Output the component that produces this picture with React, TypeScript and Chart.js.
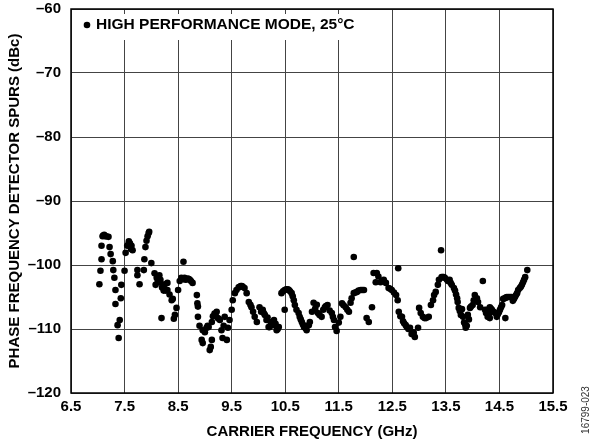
import React, { useEffect, useRef } from 'react';
import { Chart, registerables } from 'chart.js';

Chart.register(...registerables);

const seriesLabel = 'HIGH PERFORMANCE MODE, 25°C';
const xTitle = 'CARRIER FREQUENCY (GHz)';
const yTitle = 'PHASE FREQUENCY DETECTOR SPURS (dBc)';
const figureId = '16799-023';

const xTicks = [6.5, 7.5, 8.5, 9.5, 10.5, 11.5, 12.5, 13.5, 14.5, 15.5];
const yTicks = [-120, -110, -100, -90, -80, -70, -60];

const freqGHz = [
  7.03, 7.05, 7.07, 7.07, 7.09, 7.12, 7.16, 7.2, 7.22, 7.24, 7.28, 7.29, 7.33, 7.33, 7.37, 7.39, 7.41, 7.43, 7.44, 7.5,
  7.52, 7.55, 7.58, 7.6, 7.62, 7.65, 7.74, 7.74, 7.78, 7.86, 7.87, 7.89, 7.91, 7.93, 7.96, 8.0, 8.06, 8.08, 8.12, 8.15,
  8.15, 8.19, 8.2, 8.23, 8.25, 8.27, 8.3, 8.3, 8.34, 8.38, 8.4, 8.42, 8.44, 8.47, 8.5, 8.53, 8.56, 8.6, 8.6, 8.64,
  8.68, 8.72, 8.77, 8.85, 8.86, 8.87, 8.87, 8.9, 8.94, 8.96, 8.96, 9.03, 9.05, 9.09, 9.13, 9.13, 9.15, 9.18, 9.22, 9.24,
  9.28, 9.31, 9.33, 9.37, 9.41, 9.43, 9.46, 9.5, 9.52, 9.56, 9.59, 9.63, 9.67, 9.71, 9.74, 9.78, 9.82, 9.87, 9.9, 9.93,
  9.97, 10.02, 10.08, 10.1, 10.12, 10.15, 10.19, 10.21, 10.25, 10.29, 10.3, 10.34, 10.38, 10.43, 10.49, 10.49, 10.55, 10.57, 10.62, 10.66,
  10.68, 10.71, 10.75, 10.77, 10.81, 10.85, 10.9, 10.94, 10.96, 11.0, 11.03, 11.09, 11.11, 11.14, 11.18, 11.24, 11.29, 11.37, 11.41, 11.43,
  11.46, 11.5, 11.56, 11.63, 11.69, 11.72, 11.74, 11.78, 11.78, 11.84, 11.91, 11.97, 12.02, 12.06, 12.12, 12.15, 12.19, 12.21, 12.28, 12.34,
  12.38, 12.43, 12.49, 12.57, 12.6, 12.61, 12.62, 12.68, 12.72, 12.77, 12.83, 12.88, 12.92, 12.98, 13.0, 13.07, 13.13, 13.18, 13.22, 13.26,
  13.28, 13.31, 13.35, 13.37, 13.41, 13.42, 13.48, 13.54, 13.57, 13.61, 13.65, 13.67, 13.71, 13.72, 13.74, 13.78, 13.8, 13.82, 13.84, 13.87,
  13.89, 13.91, 13.95, 14.0, 14.04, 14.08, 14.14, 14.19, 14.23, 14.27, 14.28, 14.32, 14.32, 14.36, 14.42, 14.45, 14.47, 14.51, 14.55, 14.57,
  14.6, 14.61, 14.64, 14.7, 14.73, 14.75, 14.79, 14.83, 14.85, 14.88, 14.92, 14.94, 14.98, 15.02,
  7.1, 7.14, 7.31, 7.57, 7.63, 7.95, 8.1, 8.17, 8.22, 8.62, 8.66, 8.7, 8.74, 9.0, 9.07, 9.11, 9.2, 9.26, 9.35, 9.65,
  9.69, 9.85, 10.05, 10.17, 10.23, 10.32, 10.36, 10.46, 10.52, 10.59, 10.64, 10.79, 10.83, 10.88, 11.06, 11.21, 11.26, 11.33, 11.39, 11.53,
  11.59, 11.66, 11.81, 11.87, 11.94, 12.24, 12.31, 12.46, 12.53, 12.65, 12.7, 12.75, 12.8, 12.86, 12.9, 13.03, 13.1, 13.44, 13.46, 13.52,
  13.59, 13.69, 13.76, 13.86, 13.93, 13.97, 14.02, 14.1, 14.25, 14.3, 14.34, 14.39, 14.49, 14.53, 14.62, 14.67, 14.77, 14.81, 14.9, 14.96,
];

const spurDbc = [
  -103.0, -100.9, -99.1, -97.0, -95.5, -95.3, -95.5, -95.6, -97.2, -98.3, -99.4, -100.8, -103.9, -106.1, -109.4, -111.4, -108.6, -105.2, -103.1, -100.9,
  -98.1, -97.0, -96.3, -96.6, -97.5, -97.7, -100.8, -101.6, -103.0, -100.8, -99.1, -97.2, -96.2, -95.5, -94.8, -99.7, -101.3, -103.1, -102.5, -101.6,
  -102.7, -108.3, -103.5, -104.0, -103.0, -104.0, -102.8, -103.9, -104.6, -105.5, -105.3, -108.4, -107.8, -106.7, -103.9, -102.5, -102.0, -99.5, -102.2, -102.3,
  -102.1, -102.3, -102.8, -104.7, -106.0, -106.5, -108.1, -109.5, -111.7, -110.2, -112.2, -109.8, -109.5, -113.3, -108.9, -111.7, -108.0, -107.6, -107.3, -108.3,
  -108.6, -110.2, -111.4, -108.1, -111.7, -109.8, -108.6, -107.0, -105.5, -104.4, -103.9, -103.5, -103.3, -103.4, -103.6, -104.4, -105.8, -106.6, -107.3, -108.1,
  -108.9, -106.6, -107.0, -107.5, -107.8, -108.6, -109.7, -109.7, -108.9, -108.6, -109.4, -110.2, -109.7, -104.4, -103.9, -107.0, -103.8, -103.9, -104.4, -105.5,
  -106.25, -107.0, -107.5, -108.1, -108.9, -109.7, -110.2, -109.4, -108.9, -107.3, -105.9, -106.2, -107.5, -107.8, -108.1, -106.6, -106.25, -107.5, -108.6, -109.7,
  -110.3, -109.0, -106.0, -106.6, -107.3, -105.9, -105.2, -104.4, -98.75, -104.2, -103.9, -103.9, -108.3, -108.9, -106.6, -101.25, -102.7, -101.25, -102.7, -102.3,
  -102.8, -103.6, -103.9, -104.7, -105.5, -100.5, -107.3, -108.1, -109.1, -109.7, -109.8, -110.5, -111.25, -109.8, -106.7, -108.1, -108.3, -108.1, -106.25, -105.5,
  -104.7, -104.2, -103.1, -102.3, -97.7, -101.9, -102.0, -102.5, -102.3, -103.1, -103.6, -104.0, -105.2, -105.8, -106.7, -107.8, -106.9, -108.1, -109.0, -109.8,
  -109.5, -107.8, -106.7, -106.25, -104.7, -105.2, -106.6, -102.5, -107.0, -107.0, -108.1, -108.3, -106.6, -107.0, -107.5, -108.1, -107.7, -107.0, -106.25, -105.3,
  -105.2, -108.3, -105.0, -105.0, -105.0, -105.6, -105.0, -104.4, -103.9, -103.6, -103.1, -102.7, -101.9, -100.8,
  -95.4, -95.5, -102.0, -96.8, -97.0, -95.0, -102.0, -102.3, -103.3, -102.0, -102.2, -102.2, -102.5, -110.5, -109.7, -112.8, -107.8, -108.4, -109.5, -103.4,
  -103.3, -106.2, -107.3, -108.2, -109.0, -109.2, -110.0, -104.1, -103.8, -104.1, -104.9, -108.5, -109.3, -109.9, -106.8, -107.0, -106.4, -107.1, -108.1, -108.1,
  -106.3, -107.0, -104.3, -104.0, -103.9, -101.8, -102.5, -103.7, -104.3, -108.0, -108.8, -109.4, -110.0, -110.8, -110.6, -107.5, -108.3, -101.9, -101.9, -102.3,
  -102.8, -104.6, -107.2, -109.3, -108.5, -106.5, -105.5, -105.8, -107.5, -107.7, -106.8, -107.3, -107.4, -106.6, -105.1, -105.0, -105.3, -104.7, -103.4, -102.3,
];

const FONT = '"Liberation Sans", Arial, Helvetica, sans-serif';

function fmtY(v: number): string {
  return v < 0 ? '\u2013' + Math.abs(v) : String(v);
}

export default function App() {
  const ref = useRef<HTMLCanvasElement>(null);

  useEffect(() => {
    const canvas = ref.current;
    if (!canvas) return;

    const decorPlugin = {
      id: 'decor',
      afterDraw(chart: any) {
        const { ctx, chartArea } = chart;
        const { left, top, right, bottom } = chartArea;
        ctx.save();
        // legend box inside plot area
        ctx.fillStyle = '#ffffff';
        ctx.fillRect(left + 4, top + 5, 290, 26);
        ctx.fillStyle = '#000000';
        ctx.beginPath();
        ctx.arc(left + 16, top + 16, 3.3, 0, Math.PI * 2);
        ctx.fill();
        ctx.font = 'bold 15.5px ' + FONT;
        ctx.textBaseline = 'middle';
        ctx.textAlign = 'left';
        ctx.fillText(chart.data.datasets[0].label, left + 25, top + 16);
        // frame
        ctx.strokeStyle = '#000000';
        ctx.lineWidth = 1.5;
        ctx.strokeRect(left, top, right - left, bottom - top);
        // figure id
        ctx.translate(586, 410);
        ctx.rotate(-Math.PI / 2);
        ctx.font = '10px ' + FONT;
        ctx.fillStyle = '#333333';
        ctx.textAlign = 'center';
        ctx.textBaseline = 'middle';
        ctx.fillText(figureId, 0, 0);
        ctx.restore();
      },
    };

    const chart = new Chart(canvas, {
      type: 'scatter',
      data: {
        datasets: [
          {
            label: seriesLabel,
            data: freqGHz.map((f, i) => ({ x: f, y: spurDbc[i] })),
            backgroundColor: '#000000',
            borderColor: '#000000',
            borderWidth: 0,
            pointRadius: 3.3,
            pointHoverRadius: 3.3,
          },
        ],
      },
      options: {
        animation: false,
        responsive: true,
        maintainAspectRatio: false,
        events: [],
        layout: { padding: { top: 9, right: 43, bottom: 0, left: 0 } },
        plugins: {
          legend: { display: false },
          tooltip: { enabled: false },
        },
        scales: {
          x: {
            type: 'linear',
            min: 6.5,
            max: 15.5,
            afterBuildTicks: (scale: any) => {
              scale.ticks = xTicks.map((v) => ({ value: v }));
            },
            afterFit: (scale: any) => {
              scale.height = 52;
              scale.paddingLeft = 0;
              scale.paddingRight = 0;
            },
            grid: { color: '#444444', lineWidth: 1, drawTicks: false },
            border: { display: false },
            ticks: {
              padding: 5,
              color: '#000000',
              font: { family: FONT, size: 15, weight: 'bold' },
              maxRotation: 0,
              autoSkip: false,
              callback: (v: any) => Number(v).toFixed(1),
            },
            title: {
              display: true,
              text: xTitle,
              color: '#000000',
              font: { family: FONT, size: 15, weight: 'bold' },
              padding: { top: 0, bottom: 4 },
            },
          },
          y: {
            type: 'linear',
            min: -120,
            max: -60,
            afterBuildTicks: (scale: any) => {
              scale.ticks = yTicks.map((v) => ({ value: v }));
            },
            afterFit: (scale: any) => {
              scale.width = 71;
              scale.paddingTop = 0;
              scale.paddingBottom = 0;
            },
            grid: { color: '#444444', lineWidth: 1, drawTicks: false },
            border: { display: false },
            ticks: {
              padding: 10,
              color: '#000000',
              font: { family: FONT, size: 15, weight: 'bold' },
              autoSkip: false,
              callback: (v: any) => fmtY(Number(v)),
            },
            title: {
              display: true,
              text: yTitle,
              color: '#000000',
              font: { family: FONT, size: 15, weight: 'bold' },
              padding: { top: 6, bottom: 0 },
            },
          },
        },
      },
      plugins: [decorPlugin],
    } as any);

    return () => {
      chart.destroy();
    };
  }, []);

  return (
    <div style={{ position: 'fixed', left: 0, top: 0, width: 596, height: 445, background: '#ffffff' }}>
      <canvas ref={ref} />
    </div>
  );
}
